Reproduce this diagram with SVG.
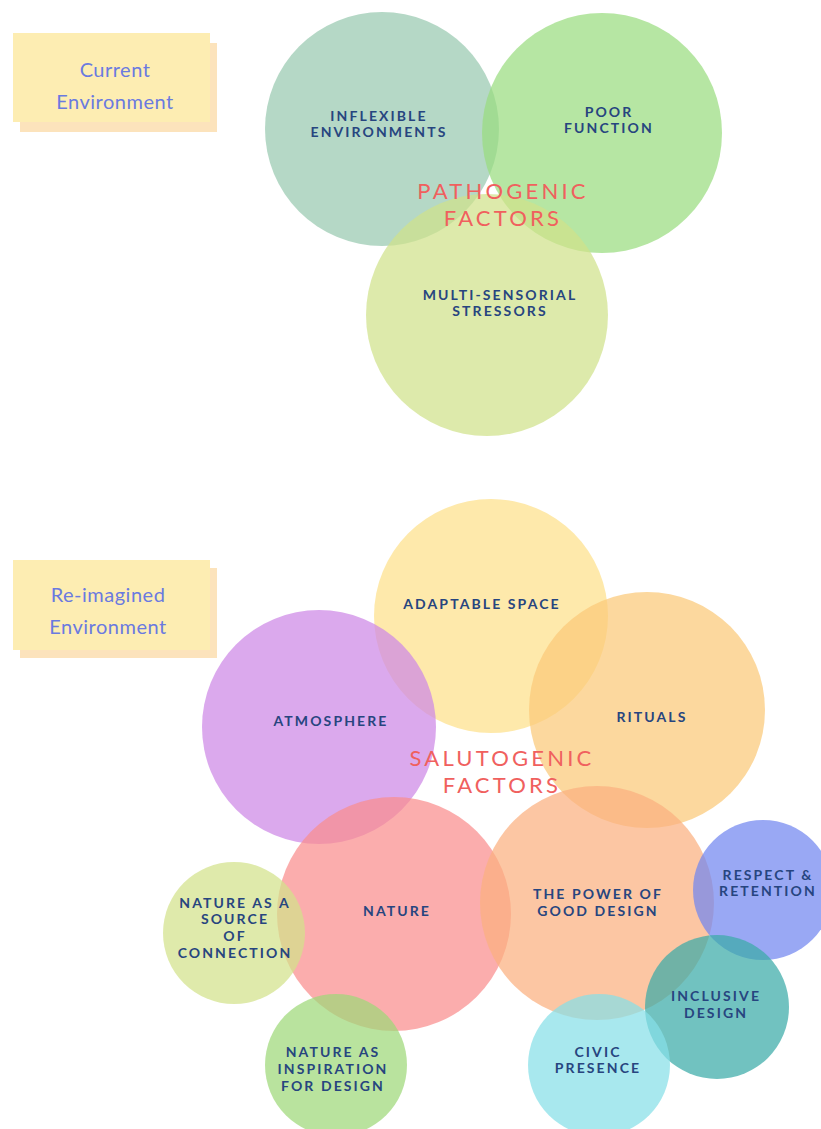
<svg xmlns="http://www.w3.org/2000/svg" width="821" height="1129" viewBox="0 0 821 1129">
<style>
.c{fill-opacity:0.72}
.lbl{font-family:"Lato","Noto Sans",sans-serif;font-weight:700;font-size:14px;letter-spacing:2.1px;fill:#27457f;text-anchor:middle}
.big{font-family:"Lato","Noto Sans",sans-serif;font-weight:400;font-size:22px;letter-spacing:3.2px;fill:#f0605e;text-anchor:middle}
.tag{font-family:"Lato","Noto Sans",sans-serif;font-size:20px;fill:#6a7ae0;text-anchor:middle;letter-spacing:0.5px}
.front{fill:#fdedb2}
.back{fill:#fce3bc}
</style>
<rect width="821" height="1129" fill="#ffffff"/>
<g id="current-environment">
<rect class="back" x="20" y="43" width="197" height="89"/>
<rect class="front" x="13" y="33" width="197" height="89"/>
<text class="tag" x="115" y="77">Current</text>
<text class="tag" x="115" y="109">Environment</text>
</g>
<g id="reimagined-environment">
<rect class="back" x="20" y="568" width="197" height="90"/>
<rect class="front" x="13" y="560" width="197" height="90"/>
<text class="tag" x="108" y="602">Re-imagined</text>
<text class="tag" x="108" y="634">Environment</text>
</g>
<g id="inflexible-environments">
<circle class="c" cx="382" cy="129" r="117" fill="#98c9b0"/>
</g>
<g id="poor-function">
<circle class="c" cx="602" cy="133" r="120" fill="#9adc80"/>
</g>
<g id="multi-sensorial-stressors">
<circle class="c" cx="487" cy="315" r="121" fill="#d0e28a"/>
</g>
<g id="adaptable-space">
<circle class="c" cx="491" cy="616" r="117" fill="#fde08a"/>
</g>
<g id="atmosphere">
<circle class="c" cx="319" cy="727" r="117" fill="#cd88e6"/>
</g>
<g id="rituals">
<circle class="c" cx="647" cy="710" r="118" fill="#fbc978"/>
</g>
<g id="nature">
<circle class="c" cx="394" cy="914" r="117" fill="#fa8e8e"/>
</g>
<g id="good-design">
<circle class="c" cx="597" cy="903" r="117" fill="#fbb080"/>
</g>
<g id="nature-source">
<circle class="c" cx="234" cy="933" r="71" fill="#d2e28a"/>
</g>
<g id="nature-inspiration">
<circle class="c" cx="336" cy="1065" r="71" fill="#9ed878"/>
</g>
<g id="respect-retention">
<circle class="c" cx="763" cy="890" r="70" fill="#7286f0"/>
</g>
<g id="inclusive-design">
<circle class="c" cx="717" cy="1007" r="72" fill="#3aaaa8"/>
</g>
<g id="civic-presence">
<circle class="c" cx="599" cy="1065" r="71" fill="#86dfe8"/>
</g>
<g id="labels">
<text class="lbl" x="379" y="121">INFLEXIBLE</text>
<text class="lbl" x="379" y="137">ENVIRONMENTS</text>
<text class="lbl" x="609" y="117">POOR</text>
<text class="lbl" x="609" y="133">FUNCTION</text>
<text class="big" x="503" y="199">PATHOGENIC</text>
<text class="big" x="503" y="226">FACTORS</text>
<text class="lbl" x="500" y="300">MULTI-SENSORIAL</text>
<text class="lbl" x="500" y="316">STRESSORS</text>
<text class="lbl" x="482" y="609">ADAPTABLE SPACE</text>
<text class="lbl" x="331" y="726">ATMOSPHERE</text>
<text class="lbl" x="652" y="722">RITUALS</text>
<text class="big" x="502" y="766">SALUTOGENIC</text>
<text class="big" x="502" y="793">FACTORS</text>
<text class="lbl" x="397" y="916">NATURE</text>
<text class="lbl" x="235" y="908">NATURE AS A</text>
<text class="lbl" x="235" y="924">SOURCE</text>
<text class="lbl" x="235" y="941">OF</text>
<text class="lbl" x="235" y="958">CONNECTION</text>
<text class="lbl" x="598" y="899">THE POWER OF</text>
<text class="lbl" x="598" y="916">GOOD DESIGN</text>
<text class="lbl" x="768" y="880">RESPECT &amp;</text>
<text class="lbl" x="768" y="896">RETENTION</text>
<text class="lbl" x="716" y="1001">INCLUSIVE</text>
<text class="lbl" x="716" y="1018">DESIGN</text>
<text class="lbl" x="598" y="1057">CIVIC</text>
<text class="lbl" x="598" y="1073">PRESENCE</text>
<text class="lbl" x="333" y="1057">NATURE AS</text>
<text class="lbl" x="333" y="1074">INSPIRATION</text>
<text class="lbl" x="333" y="1091">FOR DESIGN</text>
</g>
</svg>
